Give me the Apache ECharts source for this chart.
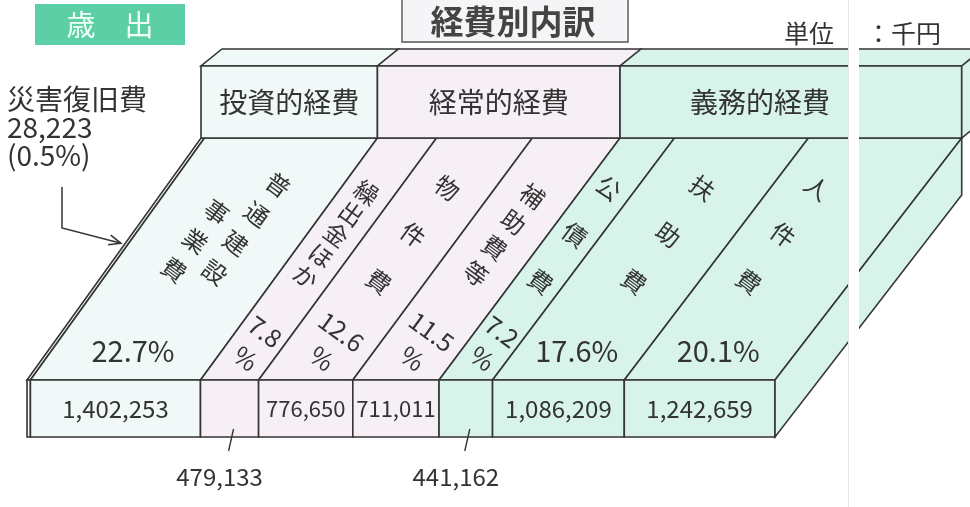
<!DOCTYPE html>
<html>
<head>
<meta charset="utf-8">
<title>経費別内訳</title>
<script src="https://cdn.jsdelivr.net/npm/echarts@6/dist/echarts.min.js"></script>
<style>
  html, body { margin: 0; padding: 0; background: #fff; }
  #chart { width: 970px; height: 507px; }
</style>
</head>
<body>
<div id="chart"></div>
<script>
// 歳出 経費別内訳（単位：千円）
var categories = ['災害復旧費', '普通建設事業費', '繰出金ほか', '物件費', '補助費等', '公債費', '扶助費', '人件費'];
var values = [28223, 1402253, 479133, 776650, 711011, 441162, 1086209, 1242659];
var percents = ['0.5', '22.7', '7.8', '12.6', '11.5', '7.2', '17.6', '20.1'];
var groupOf = [0, 0, 1, 1, 1, 2, 2, 2];
var groupNames = ['投資的経費', '経常的経費', '義務的経費'];

var FONT = '"Noto Sans CJK JP", "Noto Sans", sans-serif';
var LINE = '#353535';
var TEXT = '#333';
var groupColors = ['#f1f9f8', '#f6f0f6', '#d8f3ea'];
var DEPTH_Y = -242;   // 奥行き（上面）
var HEAD_H = 72;      // 見出し箱の高さ
var HX = 21, HY = -17; // 見出し箱の上面
var ROT = -0.63;      // 斜め文字の角度
var FOLD_X = 848;     // 綴じ目
var LABEL_LIMIT = 900;

// 奥行きの横ずれ（右ほど少し大きい）
function depthX(x, cs) {
  return 174 + 0.017 * (x - cs.x);
}

var total = values.reduce(function (a, b) { return a + b; }, 0);
var segData = [];
var acc = 0;
values.forEach(function (v, i) {
  segData.push([acc, acc + v, i]);
  acc += v;
});
var groupData = groupNames.map(function (g, gi) {
  var s = null, e = null;
  segData.forEach(function (d) {
    if (groupOf[d[2]] === gi) {
      if (s === null) s = d[0];
      e = d[1];
    }
  });
  return [s, e, gi];
});

function fmt(v) {
  return v.toLocaleString('en-US');
}

function txt(x, y, text, size, extra) {
  var el = {
    type: 'text', x: x, y: y,
    style: { text: text, fontSize: size, fontFamily: FONT, fill: TEXT, align: 'center', verticalAlign: 'middle' }
  };
  if (extra) {
    for (var k in extra) el.style[k] = extra[k];
  }
  return el;
}

function renderSeg(params, api) {
  var i = api.value(2);
  var cs = params.coordSys;
  var a = api.coord([api.value(0), 0]);
  var b = api.coord([api.value(1), 0]);
  var h = api.size([0, 1])[1];
  var top = a[1] - h / 2, bottom = a[1] + h / 2;
  var x0 = a[0], x1 = b[0];
  var d0 = depthX(x0, cs), d1 = depthX(x1, cs);
  var fill = groupColors[groupOf[i]];
  var st = { fill: fill, stroke: LINE, lineWidth: 1.6 };
  var kids = [
    { type: 'polygon', shape: { points: [[x0, top], [x1, top], [x1 + d1, top + DEPTH_Y], [x0 + d0, top + DEPTH_Y]] }, style: st },
    { type: 'rect', shape: { x: x0, y: top, width: x1 - x0, height: h }, style: st }
  ];
  if (i === values.length - 1) {
    kids.push({ type: 'polygon', shape: { points: [[x1, top], [x1, bottom], [x1 + d1, bottom + DEPTH_Y], [x1 + d1, top + DEPTH_Y]] }, style: st });
  }
  var w = x1 - x0;
  if (w > 10) {
    var cx = (x0 + x1) / 2;
    var dc = depthX(cx, cs);
    // 費目名（縦書き・斜め）
    var name = categories[i];
    var cols = name.length > 5 ? [name.slice(0, 4), name.slice(4)] : [name];
    var lh = cols.length > 1 ? 36 : (name.length <= 3 ? 58 : (name.length === 4 ? 32 : 26));
    kids.push({
      type: 'group', x: Math.min(cx + 0.6 * dc, FOLD_X - 65), y: top + 0.6 * DEPTH_Y, rotation: ROT,
      children: cols.map(function (c, k) {
        var off = (cols.length - 1) / 2 - k;
        return txt(off * 34, -off * 40, c.split('').join('\n'), 24, { lineHeight: lh });
      })
    });
    // 構成比
    if (w >= 110) {
      kids.push(txt(cx + 0.1 * dc, top + 0.12 * DEPTH_Y, percents[i] + '%', 29));
    } else {
      var p = txt(cx + 0.145 * dc, top + 0.145 * DEPTH_Y, percents[i] + '\n%', 25, { lineHeight: 33 });
      p.rotation = ROT;
      kids.push(p);
    }
    // 金額
    if (w >= 70) {
      kids.push(txt(cx, (top + bottom) / 2, fmt(values[i]), w < 110 ? 22 : 24));
    } else {
      kids.push({ type: 'line', shape: { x1: cx + 4, y1: bottom - 8, x2: cx - 1, y2: bottom + 14 }, style: { stroke: LINE, lineWidth: 1.4 } });
      kids.push(txt(cx - 10, bottom + 40, fmt(values[i]), 24));
    }
  }
  return { type: 'group', children: kids };
}

function renderGroup(params, api) {
  var gi = api.value(2);
  var cs = params.coordSys;
  var a = api.coord([api.value(0), 0]);
  var b = api.coord([api.value(1), 0]);
  var h = api.size([0, 1])[1];
  var back = a[1] - h / 2 + DEPTH_Y;
  var bx0 = a[0] + depthX(a[0], cs), bx1 = b[0] + depthX(b[0], cs);
  var y0 = back - HEAD_H;
  var st = { fill: groupColors[gi], stroke: LINE, lineWidth: 1.6 };
  var kids = [
    { type: 'polygon', shape: { points: [[bx0, y0], [bx1, y0], [bx1 + HX, y0 + HY], [bx0 + HX, y0 + HY]] }, style: st },
    { type: 'rect', shape: { x: bx0, y: y0, width: bx1 - bx0, height: HEAD_H }, style: st }
  ];
  if (gi === groupNames.length - 1) {
    kids.push({ type: 'polygon', shape: { points: [[bx1, y0], [bx1 + HX, y0 + HY], [bx1 + HX, back + HY], [bx1, back]] }, style: st });
  }
  kids.push(txt((bx0 + Math.min(bx1, LABEL_LIMIT)) / 2, y0 + HEAD_H / 2, groupNames[gi], 28));
  return { type: 'group', children: kids };
}

var chart = echarts.init(document.getElementById('chart'));
chart.setOption({
  animation: false,
  backgroundColor: '#fff',
  grid: { left: 27, right: 195, top: 380, bottom: 70 },
  xAxis: { type: 'value', min: 0, max: total, show: false },
  yAxis: { type: 'category', data: ['歳出'], show: false },
  series: [
    { type: 'custom', clip: false, renderItem: renderSeg, data: segData, encode: { x: [0, 1], y: -1 }, z: 2 },
    { type: 'custom', clip: false, renderItem: renderGroup, data: groupData, encode: { x: [0, 1], y: -1 }, z: 3 }
  ],
  graphic: [
    { type: 'rect', z: 100, shape: { x: 35, y: 4, width: 150, height: 41 }, style: { fill: '#5ccfa6' } },
    { type: 'text', z: 101, x: 110, y: 25, style: { text: '歳　出', fontSize: 29, fontFamily: FONT, fill: '#f2fff9', align: 'center', verticalAlign: 'middle' } },
    { type: 'rect', z: 100, shape: { x: 402, y: -1, width: 226, height: 43 }, style: { fill: '#f5f5f7', stroke: '#555', lineWidth: 1.4 } },
    { type: 'text', z: 101, x: 513, y: 21, style: { text: '経費別内訳', fontSize: 33, fontWeight: 'bold', fontFamily: FONT, fill: '#444', align: 'center', verticalAlign: 'middle' } },
    { type: 'text', z: 101, x: 834, y: 33, style: { text: '単位', fontSize: 25, fontFamily: FONT, fill: TEXT, align: 'right', verticalAlign: 'middle' } },
    { type: 'text', z: 101, x: 866, y: 33, style: { text: '：千円', fontSize: 25, fontFamily: FONT, fill: TEXT, align: 'left', verticalAlign: 'middle' } },
    // 災害復旧費の注記
    { type: 'text', z: 101, x: 7, y: 85, style: { text: categories[0] + '\n' + fmt(values[0]) + '\n(' + percents[0] + '%)', fontSize: 28, lineHeight: 28, fontFamily: FONT, fill: TEXT, align: 'left', verticalAlign: 'top' } },
    { type: 'polyline', z: 101, shape: { points: [[62, 187], [62, 228], [120, 243]] }, style: { stroke: LINE, lineWidth: 1.5, fill: null } },
    { type: 'polyline', z: 101, shape: { points: [[110.7, 235.1], [121, 243.3], [108.1, 244.7]] }, style: { stroke: LINE, lineWidth: 1.5, fill: null } },
    // 綴じ目
    { type: 'rect', z: 100, shape: { x: FOLD_X, y: 0, width: 11, height: 507 }, style: { fill: '#fff' } },
    { type: 'line', z: 100, shape: { x1: FOLD_X + 0.5, y1: 0, x2: FOLD_X + 0.5, y2: 507 }, style: { stroke: '#e6e6e6', lineWidth: 1 } }
  ]
});
</script>
</body>
</html>
